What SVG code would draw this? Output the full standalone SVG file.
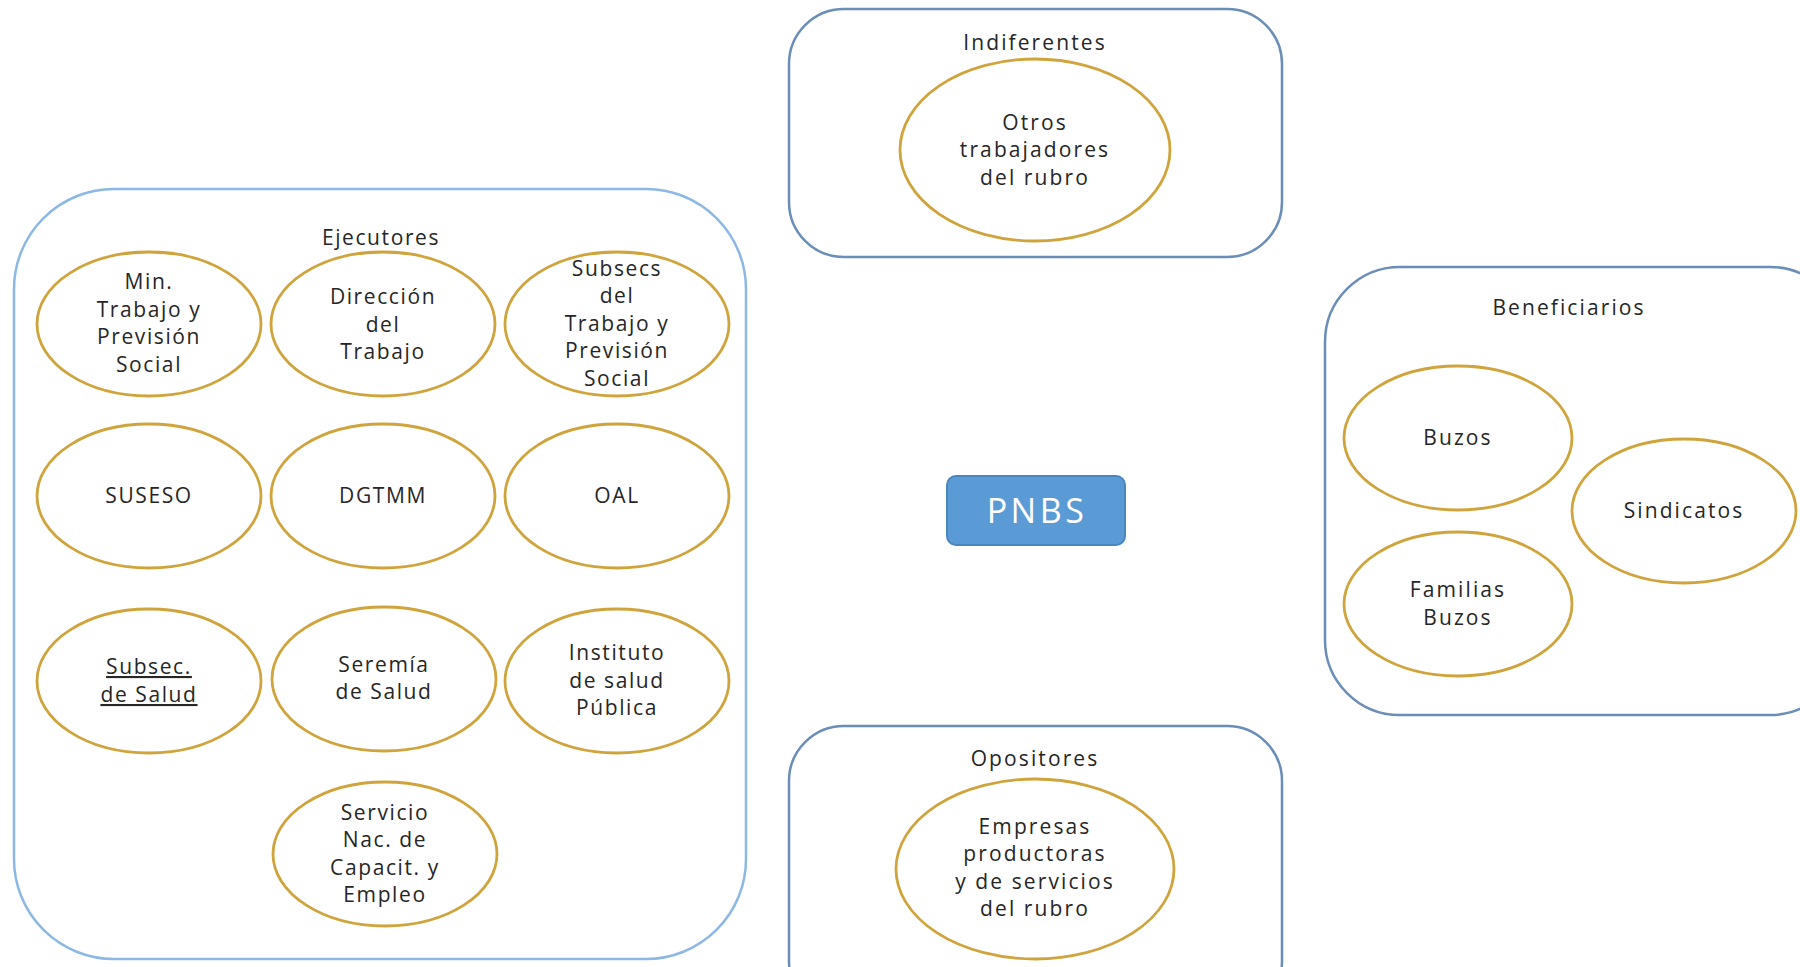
<svg xmlns="http://www.w3.org/2000/svg" width="1800" height="967" viewBox="0 0 1800 967">
<style>
.grp{fill:#fff;stroke:#6B8EB8;stroke-width:2.5}
.grp1{fill:#fff;stroke:#8DB8E6;stroke-width:2.5}
.el{fill:#fff;stroke:#CFA43C;stroke-width:2.8}
text{font-family:"Open Sans","Liberation Sans",sans-serif;font-size:21px;fill:#262626;text-anchor:middle;letter-spacing:1.6px}
.w{letter-spacing:2.1px}
.pnbs{fill:#fff;font-size:34px;letter-spacing:3.5px}
</style>
<rect width="1800" height="967" fill="#fff"/>
<g id="connectors"></g>
<g id="ejecutores">
<rect class="grp1" x="14" y="189" width="732" height="770" rx="100" ry="100"/>
<text x="381" y="245">Ejecutores</text>
</g>
<g id="n-min"><ellipse class="el" cx="149" cy="324" rx="112" ry="72"/>
<text x="149" y="289">Min.</text><text x="149" y="317">Trabajo y</text><text x="149" y="344">Previsión</text><text x="149" y="372">Social</text></g>
<g id="n-direccion"><ellipse class="el" cx="383" cy="324" rx="112" ry="72"/>
<text x="383" y="304">Dirección</text><text x="383" y="332">del</text><text x="383" y="359">Trabajo</text></g>
<g id="n-subsecs"><ellipse class="el" cx="617" cy="324" rx="112" ry="72"/>
<text x="617" y="276">Subsecs</text><text x="617" y="303">del</text><text x="617" y="331">Trabajo y</text><text x="617" y="358">Previsión</text><text x="617" y="386">Social</text></g>
<g id="n-suseso"><ellipse class="el" cx="149" cy="496" rx="112" ry="72"/><text x="149" y="503">SUSESO</text></g>
<g id="n-dgtmm"><ellipse class="el" cx="383" cy="496" rx="112" ry="72"/><text x="383" y="503">DGTMM</text></g>
<g id="n-oal"><ellipse class="el" cx="617" cy="496" rx="112" ry="72"/><text x="617" y="503">OAL</text></g>
<g id="n-subsec-salud"><ellipse class="el" cx="149" cy="681" rx="112" ry="72"/>
<text x="149" y="674" text-decoration="underline">Subsec.</text><text x="149" y="702" text-decoration="underline">de Salud</text></g>
<g id="n-seremia"><ellipse class="el" cx="384" cy="679" rx="112" ry="72"/>
<text x="384" y="672">Seremía</text><text x="384" y="699">de Salud</text></g>
<g id="n-isp"><ellipse class="el" cx="617" cy="681" rx="112" ry="72"/>
<text x="617" y="660">Instituto</text><text x="617" y="688">de salud</text><text x="617" y="715">Pública</text></g>
<g id="n-sence"><ellipse class="el" cx="385" cy="854" rx="112" ry="72"/>
<text x="385" y="820">Servicio</text><text x="385" y="847">Nac. de</text><text x="385" y="875">Capacit. y</text><text x="385" y="902">Empleo</text></g>

<g id="indiferentes">
<rect class="grp" x="789" y="9" width="493" height="248" rx="55" ry="55"/>
<text class="w" x="1035" y="50">Indiferentes</text>
</g>
<g id="n-otros"><ellipse class="el" cx="1035" cy="150" rx="135" ry="91"/>
<text class="w" x="1035" y="130">Otros</text><text class="w" x="1035" y="157">trabajadores</text><text class="w" x="1035" y="185">del rubro</text></g>

<g id="opositores">
<rect class="grp" x="789" y="726" width="493" height="290" rx="55" ry="55"/>
<text class="w" x="1035" y="766">Opositores</text>
</g>
<g id="n-empresas"><ellipse class="el" cx="1035" cy="869" rx="139" ry="90"/>
<text class="w" x="1035" y="834">Empresas</text><text class="w" x="1035" y="861">productoras</text><text class="w" x="1035" y="889">y de servicios</text><text class="w" x="1035" y="916">del rubro</text></g>

<g id="beneficiarios">
<rect class="grp" x="1325" y="267" width="520" height="448" rx="75" ry="75"/>
<text class="w" x="1569" y="315">Beneficiarios</text>
</g>
<g id="n-buzos"><ellipse class="el" cx="1458" cy="438" rx="114" ry="72"/><text class="w" x="1458" y="445">Buzos</text></g>
<g id="n-familias"><ellipse class="el" cx="1458" cy="604" rx="114" ry="72"/>
<text class="w" x="1458" y="597">Familias</text><text class="w" x="1458" y="625">Buzos</text></g>
<g id="n-sindicatos"><ellipse class="el" cx="1684" cy="511" rx="112" ry="72"/><text class="w" x="1684" y="518">Sindicatos</text></g>

<g id="pnbs">
<rect x="947" y="476" width="178" height="69" rx="9" ry="9" fill="#5B9BD5" stroke="#4A86C0" stroke-width="2"/>
<text class="pnbs" x="1037" y="523">PNBS</text>
</g>
</svg>
